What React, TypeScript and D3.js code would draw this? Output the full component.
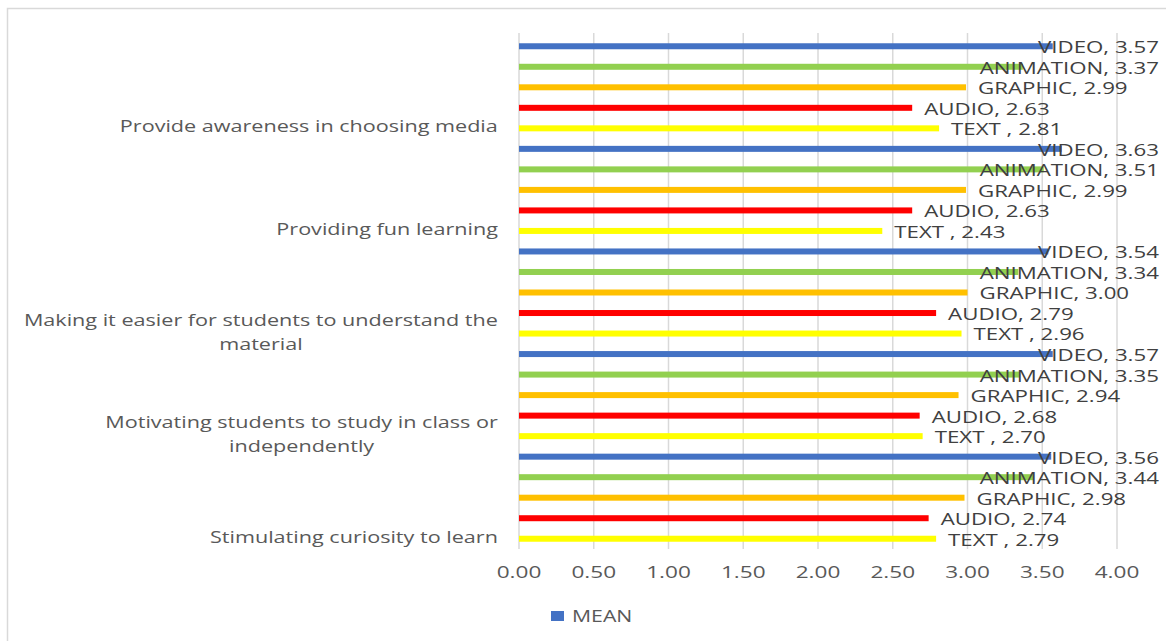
import React, { useEffect, useRef } from 'react';
import * as d3 from 'd3';

const width = 1166;
const height = 641;

const categories = [
  'Provide awareness in choosing media',
  'Providing fun learning',
  'Making it easier for students to understand the material',
  'Motivating students to study in class or independently',
  'Stimulating curiosity to learn',
];
const categoryLines = [
  ['Provide awareness in choosing media'],
  ['Providing fun learning'],
  ['Making it easier for students to understand the', 'material'],
  ['Motivating students to study in class or', 'independently'],
  ['Stimulating curiosity to learn'],
];
const media = ['VIDEO', 'ANIMATION', 'GRAPHIC', 'AUDIO', 'TEXT '];
const mediaColors = ['#4472C4', '#92D050', '#FFC000', '#FF0000', '#FFFF00'];

const video = [3.57, 3.63, 3.54, 3.57, 3.56];
const animation = [3.37, 3.51, 3.34, 3.35, 3.44];
const graphic = [2.99, 2.99, 3.0, 2.94, 2.98];
const audio = [2.63, 2.63, 2.79, 2.68, 2.74];
const text = [2.81, 2.43, 2.96, 2.7, 2.79];
const seriesValues = [video, animation, graphic, audio, text];

const ticks = [0, 0.5, 1, 1.5, 2, 2.5, 3, 3.5, 4];

const font = "'Open Sans', sans-serif";

// the reference text is drawn wide, so texts get a horizontal stretch
type Sel = d3.Selection<SVGTextElement, any, any, any>;
const addText = (parent: any, str: string, fill: string) =>
  parent.append('text')
    .attr('font-family', font).attr('font-size', 17).attr('fill', fill)
    .attr('dy', '0.35em')
    .text(str) as Sel;

const place = (t: Sel, x: number, y: number, anchor: 'start' | 'middle' | 'end', sx: number) => {
  const w = (t.node() as SVGTextElement).getComputedTextLength() * sx;
  const left = anchor === 'start' ? x : anchor === 'middle' ? x - w / 2 : x - w;
  t.attr('transform', `translate(${left},${y}) scale(${sx},1)`);
  return w;
};

export default function App() {
  const ref = useRef<SVGSVGElement>(null);

  useEffect(() => {
    document.body.style.margin = '0';
    const svg = d3.select(ref.current);
    svg.selectAll('*').remove();

    const rows: { cat: number; m: number; value: number }[] = [];
    categories.forEach((_, ci) => {
      media.forEach((_, mi) => {
        rows.push({ cat: ci, m: mi, value: seriesValues[mi][ci] });
      });
    });

    const x = d3.scaleLinear().domain([0, 4]).range([519, 1117]);
    const y = d3
      .scaleBand<number>()
      .domain(rows.map((_, i) => i))
      .range([36, 549]);
    const bw = y.bandwidth();

    svg.append('rect')
      .attr('x', 7.5).attr('y', 8.5)
      .attr('width', width).attr('height', height)
      .attr('fill', '#fff').attr('stroke', '#d9d9d9').attr('stroke-width', 1.5);

    // gridlines
    svg.append('g').selectAll('line').data(ticks).join('line')
      .attr('x1', d => x(d)).attr('x2', d => x(d))
      .attr('y1', 33).attr('y2', 549)
      .attr('stroke', '#d9d9d9').attr('stroke-width', 1.5);

    // tick labels
    const tg = svg.append('g');
    ticks.forEach(d => {
      const t = addText(tg, d.toFixed(2), '#595959');
      place(t, x(d), 572, 'middle', 1.33);
    });

    // bars
    svg.append('g').selectAll('rect').data(rows).join('rect')
      .attr('x', x(0))
      .attr('y', (_, i) => (y(i) as number) + bw / 2 - 3)
      .attr('width', d => x(d.value) - x(0))
      .attr('height', 6)
      .attr('fill', d => mediaColors[d.m]);

    // data labels, pushed back inside when they would pass the right edge
    const lg = svg.append('g');
    rows.forEach((d, i) => {
      const t = addText(lg, `${media[d.m]}, ${d.value.toFixed(2)}`, '#404040');
      const sx = 1.31;
      const w = (t.node() as SVGTextElement).getComputedTextLength() * sx;
      let lx = x(d.value) + 12;
      if (lx + w > 1159) lx = 1159 - w;
      place(t, lx, (y(i) as number) + bw / 2 + 1, 'start', sx);
    });

    // category labels, aligned with the last row of each group
    categoryLines.forEach((lines, ci) => {
      const rowIdx = ci * media.length + media.length - 1;
      const cy = (y(rowIdx) as number) + bw / 2 - 2;
      const g = svg.append('g');
      const sx = 1.27;
      const ts = lines.map(ln => addText(g, ln, '#595959'));
      const maxW = d3.max(ts, t => (t.node() as SVGTextElement).getComputedTextLength() * sx) || 0;
      ts.forEach((t, li) =>
        place(t, 498 - maxW / 2, cy + (li - (lines.length - 1) / 2) * 24, 'middle', sx)
      );
    });

    // legend
    svg.append('rect')
      .attr('x', 551).attr('y', 611).attr('width', 13).attr('height', 10)
      .attr('fill', mediaColors[0]);
    const mt = addText(svg, 'MEAN', '#595959');
    place(mt, 572, 616, 'start', 1.25);
  }, []);

  return <svg ref={ref} width={width} height={height} style={{ display: 'block' }} />;
}
